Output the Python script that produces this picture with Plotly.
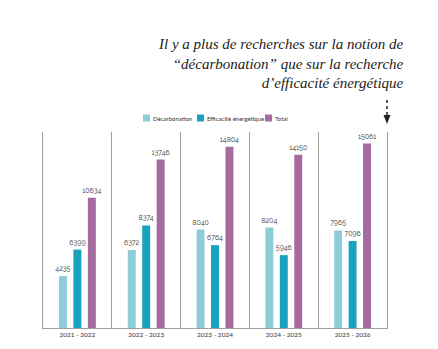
import plotly.graph_objects as go

periods = ["2021 - 2022", "2022 - 2023", "2023 - 2024", "2024 - 2025", "2025 - 2026"]
decarbonation = [4235, 6372, 8040, 8204, 7965]
efficacite = [6399, 8374, 6764, 5946, 7096]
total = [10634, 13746, 14804, 14150, 15061]

series_names = ["Décarbonation", "Efficacité énergétique", "Total"]
series_values = [decarbonation, efficacite, total]
series_colors = ["#8ECDD7", "#17A2BD", "#A56B9F"]

# plot-area geometry (pixels) used for paper-coordinate decorations
L, R, T, B = 43, 51, 132, 21
W, H = 438, 349
PW, PH = W - L - R, H - T - B


def px(x):
    return (x - L) / PW


def py(y):
    return (H - B - y) / PH


xpos = list(range(len(periods)))
fig = go.Figure()
for name, vals, col in zip(series_names, series_values, series_colors):
    fig.add_trace(go.Bar(
        x=xpos, y=vals, name=name, marker_color=col, marker_line_width=0,
        text=[str(v) for v in vals], textposition="outside", cliponaxis=False,
        constraintext="none",
        textfont=dict(size=7, color="#333333", family="Raleway, Lato, sans-serif"),
    ))

fig.update_layout(
    width=W, height=H,
    margin=dict(l=L, r=R, t=T, b=B),
    paper_bgcolor="white", plot_bgcolor="white",
    barmode="group", bargap=0.37, bargroupgap=0.45,
    showlegend=False,
    xaxis=dict(range=[-0.5, 4.5], tickvals=xpos, ticktext=periods,
               showgrid=False, zeroline=False, showline=True,
               linecolor="#A0A0A0", linewidth=1, ticks="",
               tickfont=dict(size=6.5, color="#333333", family="Lato, sans-serif"),
               minor=dict(tickvals=[0.5, 1.5, 2.5, 3.5], showgrid=True,
                          gridcolor="#A0A0A0", gridwidth=1)),
    yaxis=dict(range=[0, 16000], showgrid=False, zeroline=False,
               showticklabels=False, showline=True, mirror=True,
               linecolor="#A0A0A0", linewidth=1, ticks=""),
    font=dict(family="Lato, sans-serif"),
)

# legend drawn as small squares + labels
legend_sq_x = [143, 197, 265]
for name, col, sx in zip(series_names, series_colors, legend_sq_x):
    fig.add_shape(type="rect", xref="paper", yref="paper",
                  x0=px(sx), x1=px(sx + 7), y0=py(121.5), y1=py(114.5),
                  fillcolor=col, line=dict(width=0))
    fig.add_annotation(text=name, xref="paper", yref="paper",
                       x=px(sx + 8), y=py(118), xanchor="left", yanchor="middle",
                       showarrow=False,
                       font=dict(size=6, color="#333333", family="Lato, sans-serif"))

fig.add_annotation(
    text="Il y a plus de recherches sur la notion de<br>“décarbonation” que sur la recherche<br>d’efficacité énergétique",
    xref="paper", yref="paper", x=px(406), y=py(63), xanchor="right", yanchor="middle",
    align="right", showarrow=False,
    font=dict(family="Liberation Serif, serif", size=15, color="#222222", style="italic"),
)

fig.add_shape(type="line", xref="paper", yref="paper", x0=px(387), x1=px(387),
              y0=py(100), y1=py(115), line=dict(color="#222222", width=1.5, dash="dot"))
fig.add_shape(type="path", xref="paper", yref="paper",
              path=f"M {px(383.5)} {py(115)} L {px(390.5)} {py(115)} L {px(387)} {py(124)} Z",
              fillcolor="#222222", line=dict(width=0))

fig.write_html("out.html")
